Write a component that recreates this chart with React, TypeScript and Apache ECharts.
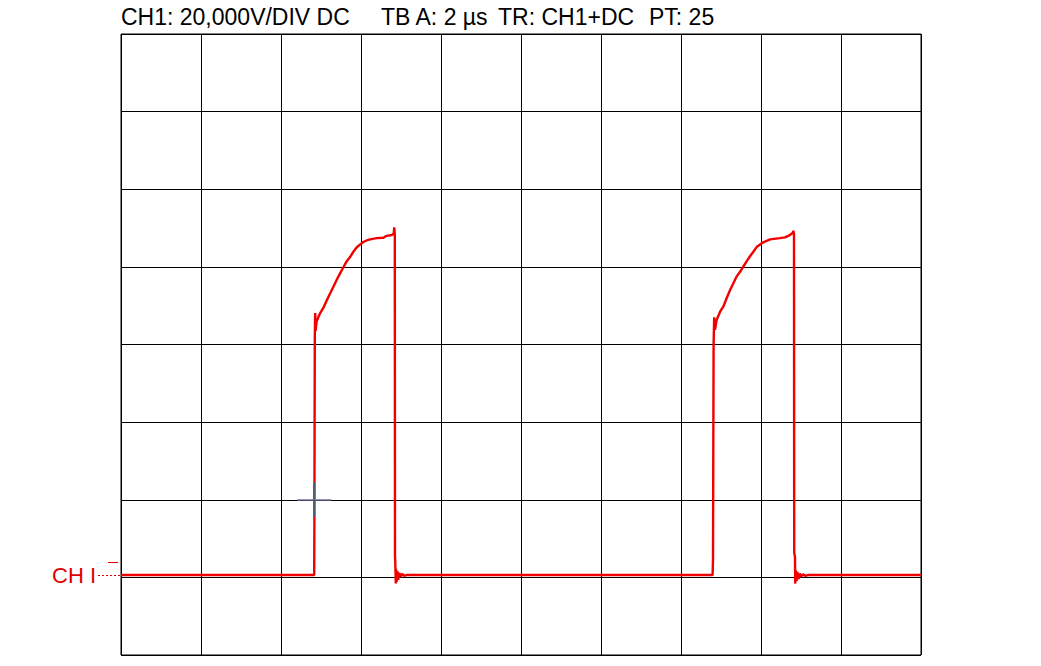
import React, { useEffect, useRef } from "react";
import * as echarts from "echarts";

// Axis scale: time in µs (2 µs/div), voltage in V (20 V/div)
const TIME_MIN = 0;
const TIME_MAX = 20;
const TIME_STEP = 2;
const VOLT_MIN = -20;
const VOLT_MAX = 140;
const VOLT_STEP = 20;

// Header texts
const headerTexts = ["CH1: 20,000V/DIV DC", "TB A: 2 µs", "TR: CH1+DC", "PT: 25"];
const channelLabel = "CH I";

// Trace readings (µs, V)
const baselineLevel = 0.6;

const pulse1Time = [4.83, 4.835, 4.845, 4.855, 4.865, 4.875, 4.89, 4.94, 4.98, 5.06, 5.14, 5.23, 5.31, 5.39, 5.48, 5.56, 5.64, 5.73, 5.81, 5.89, 5.98, 6.06, 6.14, 6.23, 6.39, 6.56, 6.64, 6.77, 6.82, 6.83, 6.845, 6.85, 6.855, 6.87, 6.875, 6.89, 6.91, 6.93, 6.96, 6.99, 7.03, 7.08, 7.14];
const pulse1Volts = [0.6, 14.8, 62, 68.1, 63.5, 64.5, 65.9, 67.2, 68.1, 69.5, 71.3, 73.2, 74.9, 76.6, 78.4, 79.9, 81.4, 82.6, 83.9, 85.0, 85.8, 86.4, 86.8, 87.1, 87.4, 87.5, 88.0, 88.2, 88.7, 90.2, 88.5, 5.3, 4.5, -1.6, 2.2, -1.2, 1.6, -0.6, 1.2, 0.1, 0.9, 0.4, 0.6];

const pulse2Time = [14.79, 14.8, 14.815, 14.83, 14.85, 14.87, 14.89, 14.98, 15.06, 15.14, 15.23, 15.31, 15.39, 15.48, 15.56, 15.64, 15.73, 15.81, 15.89, 16.02, 16.14, 16.23, 16.47, 16.6, 16.72, 16.79, 16.81, 16.825, 16.83, 16.85, 16.855, 16.87, 16.89, 16.91, 16.94, 16.97, 17.0, 17.05, 17.1, 17.18];
const pulse2Volts = [0.6, 4.7, 60, 67.0, 63.8, 65.0, 66.3, 68.5, 69.8, 71.9, 74.1, 75.8, 77.5, 78.8, 80.1, 81.4, 82.8, 83.9, 85.1, 86.1, 86.7, 87.1, 87.4, 87.6, 88.2, 88.7, 89.3, 88.4, 6.4, 5.2, -1.6, 1.8, -1.0, 1.4, -0.4, 1.0, 0.2, 0.8, 0.4, 0.6];

// Trigger marker (µs, V)
const triggerTime = 4.83;
const triggerVolts = 20;
const triggerHalfWidth = 0.43;
const triggerHalfHeight = 4.5;

const TRACE_COLOR = "#f20000";

export default function App() {
  const ref = useRef<HTMLDivElement>(null);

  useEffect(() => {
    if (!ref.current) return;
    const chart = echarts.init(ref.current, null, { renderer: "svg" });

    const trace: number[][] = [[TIME_MIN, baselineLevel]];
    pulse1Time.forEach((t, i) => trace.push([t, pulse1Volts[i]]));
    pulse2Time.forEach((t, i) => trace.push([t, pulse2Volts[i]]));
    trace.push([TIME_MAX, baselineLevel]);

    const crossH = [
      [triggerTime - triggerHalfWidth, triggerVolts],
      [triggerTime + triggerHalfWidth, triggerVolts],
    ];
    const crossV = [
      [triggerTime, triggerVolts + triggerHalfHeight],
      [triggerTime, triggerVolts - triggerHalfHeight],
    ];

    const headerX = [121, 381, 498, 649];
    const font = "Liberation Sans, Arial, Helvetica, sans-serif";

    chart.setOption({
      animation: false,
      backgroundColor: "#ffffff",
      grid: {
        left: 121,
        top: 34,
        width: 800,
        height: 621,
        show: true,
        borderColor: "#000000",
        borderWidth: 1,
        backgroundColor: "transparent",
      },
      xAxis: {
        type: "value",
        min: TIME_MIN,
        max: TIME_MAX,
        interval: TIME_STEP,
        axisLine: { show: false },
        axisTick: { show: false },
        axisLabel: { show: false },
        splitLine: { show: true, lineStyle: { color: "#000000", width: 1 } },
      },
      yAxis: {
        type: "value",
        min: VOLT_MIN,
        max: VOLT_MAX,
        interval: VOLT_STEP,
        axisLine: { show: false },
        axisTick: { show: false },
        axisLabel: { show: false },
        splitLine: { show: true, lineStyle: { color: "#000000", width: 1 } },
      },
      series: [
        {
          type: "line",
          data: trace,
          symbol: "none",
          lineStyle: { color: TRACE_COLOR, width: 2.4 },
          z: 3,
        },
        {
          type: "line",
          data: crossH,
          symbol: "none",
          lineStyle: { color: "#9a94b8", width: 1.5 },
          z: 4,
        },
        {
          type: "line",
          data: crossV,
          symbol: "none",
          lineStyle: { color: "#4f5e6e", width: 2 },
          z: 4,
        },
      ],
      graphic: [
        ...headerTexts.map((txt, i) => ({
          type: "text",
          left: headerX[i],
          top: 5,
          style: {
            text: txt,
            fill: "#000000",
            font: `23px ${font}`,
          },
        })),
        {
          type: "text",
          left: 52,
          top: 564,
          style: {
            text: channelLabel,
            fill: "#e00000",
            font: `22px ${font}`,
          },
        },
        {
          type: "line",
          shape: { x1: 98, y1: 575.5, x2: 121, y2: 575.5 },
          style: { stroke: "#e00000", lineWidth: 1, lineDash: [2, 2] },
        },
        {
          type: "line",
          shape: { x1: 108, y1: 562.5, x2: 118, y2: 562.5 },
          style: { stroke: "#e00000", lineWidth: 1 },
        },
      ],
    });

    return () => chart.dispose();
  }, []);

  return (
    <div
      ref={ref}
      style={{ position: "absolute", left: 0, top: 0, width: 1041, height: 666 }}
    />
  );
}
